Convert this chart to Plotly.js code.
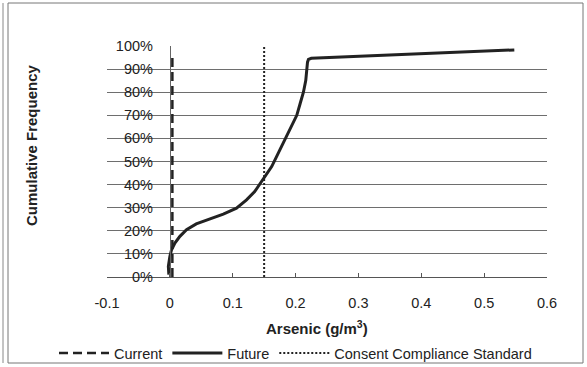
<!DOCTYPE html>
<html>
<head>
<meta charset="utf-8">
<script src="https://cdn.plot.ly/plotly-3.0.1.min.js"></script>
<style>
  html, body { margin: 0; padding: 0; background: #ffffff; }
  #chart { width: 587px; height: 367px; }
</style>
</head>
<body>
<div id="chart"></div>
<script>
// ---- Data ----
var futureX = [-0.0016, -0.0024, 0.0, 0.0027, 0.008, 0.016, 0.0265, 0.042, 0.064, 0.085, 0.106, 0.122, 0.135, 0.148, 0.162, 0.175, 0.188, 0.2019, 0.2072, 0.2125, 0.2162, 0.2178, 0.219, 0.2205, 0.225, 0.548];
var futureY = [0.01, 0.046, 0.089, 0.118, 0.147, 0.176, 0.205, 0.23, 0.252, 0.272, 0.298, 0.334, 0.37, 0.421, 0.478, 0.55, 0.622, 0.70, 0.75, 0.80, 0.85, 0.90, 0.93, 0.942, 0.947, 0.983];

var currentX = [0.004, 0.004];
var currentY = [0.0, 0.97];

var standardX = [0.15, 0.15];
var standardY = [0.0, 1.0];

var seriesNames = ["Current", "Future", "Consent Compliance Standard"];
var xTickVals = [-0.1, 0, 0.1, 0.2, 0.3, 0.4, 0.5, 0.6];
var xTickText = ["-0.1", "0", "0.1", "0.2", "0.3", "0.4", "0.5", "0.6"];
var xTitle = "Arsenic (g/m<sup>3</sup>)";
var yTitle = "Cumulative Frequency";

// ---- Helpers: convert reference pixel positions to paper coordinates ----
var W = 587, H = 367;
var L = 107, R = 547, T = 46, B = 277;
function px(x) { return (x - L) / (R - L); }
function py(y) { return (B - y) / (B - T); }

var font = "Liberation Sans, Arial, sans-serif";
var ink = "#222222";

var traces = [
  { x: currentX, y: currentY, name: seriesNames[0], type: "scatter", mode: "lines",
    line: { color: ink, width: 2.5, dash: "9px,5px" } },
  { x: futureX, y: futureY, name: seriesNames[1], type: "scatter", mode: "lines",
    line: { color: ink, width: 3 } },
  { x: standardX, y: standardY, name: seriesNames[2], type: "scatter", mode: "lines",
    line: { color: ink, width: 2, dash: "2px,2px" } }
];

var layout = {
  width: W, height: H,
  margin: { l: L, r: W - R, t: T, b: H - B, pad: 0, autoexpand: false },
  paper_bgcolor: "#ffffff", plot_bgcolor: "#ffffff",
  font: { family: font, size: 14.5, color: ink },
  showlegend: true,
  legend: {
    orientation: "h",
    x: px(54), xanchor: "left", y: py(353), yanchor: "middle",
    font: { family: font, size: 14.5, color: ink }, itemwidth: 50,
    bgcolor: "rgba(0,0,0,0)", traceorder: "normal"
  },
  xaxis: {
    range: [-0.1, 0.6], tickmode: "array", tickvals: xTickVals, ticktext: xTickText,
    showgrid: false, zeroline: false, automargin: false,
    showline: true, linecolor: "#555555", linewidth: 1,
    ticks: "inside", ticklen: 4, tickcolor: "#555555",
    ticklabelstandoff: 13,
    tickfont: { family: font, size: 14.5, color: ink }
  },
  yaxis: {
    range: [0, 1], dtick: 0.1, tick0: 0, tickformat: ".0%",
    anchor: "free", position: 1 / 7, automargin: false,
    showgrid: true, gridcolor: "#6e6e6e", gridwidth: 1,
    zeroline: false, showline: true, linecolor: "#666666", linewidth: 1,
    ticks: "", ticklabelstandoff: 14,
    tickfont: { family: font, size: 14.5, color: ink }
  },
  annotations: [
    { text: "<b>" + xTitle + "</b>", xref: "paper", yref: "paper",
      x: px(317), y: py(327), xanchor: "center", yanchor: "middle", showarrow: false,
      font: { family: font, size: 15, color: ink } },
    { text: "<b>" + yTitle + "</b>", xref: "paper", yref: "paper", textangle: -90,
      x: px(31), y: py(145), xanchor: "center", yanchor: "middle", showarrow: false,
      font: { family: font, size: 15, color: ink } }
  ],
  shapes: [
    { type: "rect", xref: "paper", yref: "paper",
      x0: px(8), x1: px(583), y0: py(363), y1: py(3),
      line: { color: "#777777", width: 1 } },
    { type: "line", xref: "paper", yref: "paper",
      x0: px(3), x1: px(3), y0: py(363), y1: py(3),
      line: { color: "#888888", width: 1 } }
  ]
};

Plotly.newPlot("chart", traces, layout, { displayModeBar: false, staticPlot: true });
</script>
</body>
</html>
